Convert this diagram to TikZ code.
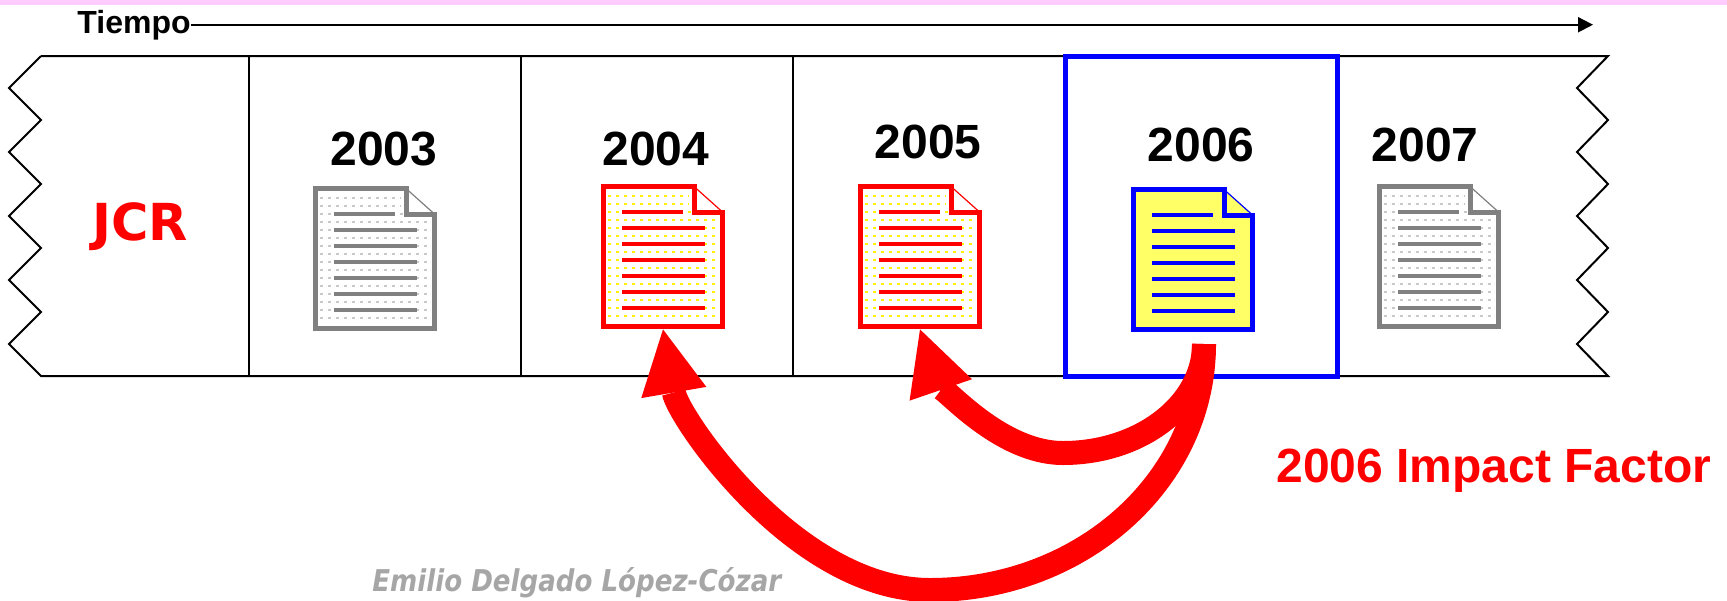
\documentclass[tikz,border=0pt]{standalone}
\usepackage{fontspec}
\setmainfont{Liberation Sans}
\newfontfamily\jcrfont{DejaVu Sans}
\newfontfamily\signfont[FakeStretch=0.87]{DejaVu Sans}
\usetikzlibrary{arrows.meta}
\definecolor{bandpink}{HTML}{FFCCFF}
\definecolor{paperyellow}{HTML}{FFFF66}
\definecolor{inkgray}{HTML}{808080}
\definecolor{dotgray}{HTML}{C8C8C8}
\definecolor{signgray}{HTML}{A6A6A6}

\tikzset{
  yearlabel/.style={anchor=base, inner sep=0pt, font=\fontsize{24}{28}\selectfont\bfseries},
  docspot/.style={inner sep=0pt, minimum width=62pt, minimum height=72.5pt},
  docdots/.style={line width=1pt, dash pattern=on 1.5pt off 2.5pt},
  jcrarrow/.style={draw=red, line width=12pt, -{Triangle[length=32pt,width=33pt,line width=0pt]}}
}

\newcommand\jcrdoc[7]{%
  \node[docspot] (#1) at (#2+62,#3+72.5) {};
  \begin{scope}[shift={(#2,#3)}]
    \fill[#7] (2.5,2.5) -- (93,2.5) -- (121.5,28) -- (121.5,142.5) -- (2.5,142.5) -- cycle;
    \foreach \r in {12,20} \draw[docdots,#6] (7,\r) -- (88,\r);
    \foreach \r in {28,36,...,132} \draw[docdots,#6] (7,\r) -- (117,\r);
    \draw[line width=2pt,#5] (21,28) -- (82,28);
    \foreach \r in {44,60,...,124} \draw[line width=2pt,#5] (21,\r) -- (104,\r);
    \draw[line width=0.6pt,#4] (93,2.5) -- (121.5,28);
    \draw[line width=2.5pt,#4,line join=miter] (93,2.5) -- (2.5,2.5) -- (2.5,142.5) -- (121.5,142.5) -- (121.5,28) -- (93,28) -- cycle;
  \end{scope}}

\begin{document}
\begin{tikzpicture}[x=0.5pt,y=-0.5pt]
	\useasboundingbox (0,0) rectangle (1727,600);
	\fill[white] (0,0) rectangle (1727,600);
	\fill[bandpink] (0,0) rectangle (1727,5);
	\node[anchor=base west, inner sep=0pt, font=\fontsize{16}{19}\selectfont\bfseries] (tiempo) at (77,33) {Tiempo};
	\coordinate (timeend) at (1593,24);
	\draw[line width=1pt, -{Triangle[length=7.5pt,width=7.5pt]}] (tiempo.east) -- (tiempo.east -| timeend);
	\draw[line width=1pt] (41,56) -- (1608,56)
		\foreach \k in {0,...,4} { -- (1577,88+64*\k) -- (1608,120+64*\k) }
		-- (41,376)
		\foreach \k in {0,...,4} { -- (9,344-64*\k) -- (41,312-64*\k) };
	\foreach \x in {249,521,793,1065,1337} \draw[line width=1pt] (\x,56) -- (\x,376);
	\draw[blue, line width=2.5pt] (1065,56) rectangle (1337,376);
	\node[anchor=base, inner sep=0pt, text=red, font=\jcrfont\fontsize{25.5}{30}\selectfont\bfseries] (jcr) at (140,240) {JCR};
	\node[yearlabel] (y2003) at (384,165) {2003};
	\node[yearlabel] (y2004) at (656,165) {2004};
	\node[yearlabel] (y2005) at (928,158) {2005};
	\node[yearlabel] (y2006) at (1201,161) {2006};
	\node[yearlabel] (y2007) at (1425,161) {2007};
	\jcrdoc{doc2003}{313}{186}{inkgray}{inkgray}{dotgray}{white}
	\jcrdoc{doc2004}{601}{184}{red}{red}{yellow}{white}
	\jcrdoc{doc2005}{858}{184}{red}{red}{yellow}{white}
	\jcrdoc{doc2006}{1131}{187}{blue}{blue}{draw=none}{paperyellow}
	\jcrdoc{doc2007}{1377}{184}{inkgray}{inkgray}{dotgray}{white}
	\coordinate (src) at (1204,344);
	\coordinate (dip2005) at (1063,453);
	\coordinate (dip2004) at (930,590);
	\draw[jcrarrow] (src) .. controls (1204,404) and (1141,453) .. (dip2005) .. controls (995,453) and (936,376) .. (doc2005.south);
	\draw[jcrarrow] (src) .. controls (1204,481) and (1081,590) .. (dip2004) .. controls (795,590) and (678,417) .. (doc2004.south);
	\node[anchor=base west, inner sep=0pt, text=red, font=\fontsize{24}{28}\selectfont\bfseries] (impact) at (1276,482) {2006 Impact Factor};
	\node[anchor=base west, inner sep=0pt, text=signgray, font=\signfont\fontsize{15}{18}\selectfont\bfseries\itshape] (author) at (372,591) {Emilio Delgado López-Cózar};
\end{tikzpicture}
\end{document}
